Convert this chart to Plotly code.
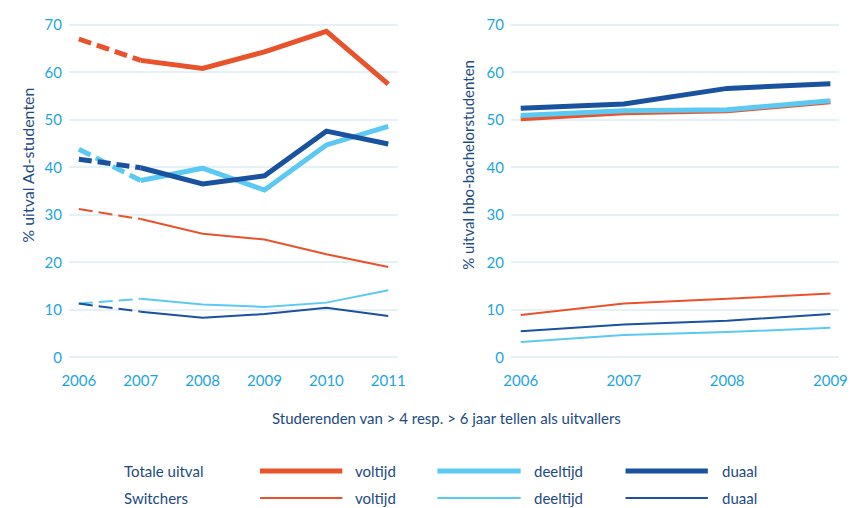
import plotly.graph_objects as go

# data
jaren_ad = [2006, 2007, 2008, 2009, 2010, 2011]
jaren_hbo = [2006, 2007, 2008, 2009]

ad_totaal_voltijd = [67.0, 62.5, 60.8, 64.3, 68.6, 57.5]
ad_totaal_deeltijd = [43.8, 37.2, 39.8, 35.2, 44.7, 48.6]
ad_totaal_duaal = [41.7, 39.9, 36.5, 38.2, 47.6, 44.9]
ad_switch_voltijd = [31.2, 29.1, 26.0, 24.8, 21.7, 19.0]
ad_switch_deeltijd = [11.3, 12.3, 11.1, 10.6, 11.5, 14.1]
ad_switch_duaal = [11.3, 9.6, 8.3, 9.1, 10.4, 8.7]

hbo_totaal_voltijd = [50.2, 51.5, 51.9, 53.8]
hbo_totaal_deeltijd = [50.9, 51.9, 52.1, 54.0]
hbo_totaal_duaal = [52.4, 53.3, 56.6, 57.6]
hbo_switch_voltijd = [8.9, 11.3, 12.3, 13.4]
hbo_switch_deeltijd = [3.2, 4.7, 5.3, 6.2]
hbo_switch_duaal = [5.5, 6.9, 7.7, 9.1]

y_ticks = [0, 10, 20, 30, 40, 50, 60, 70]

ORANJE = "#E8532B"
LICHTBLAUW = "#5CC9F2"
DONKERBLAUW = "#1A52A0"
TICK = "#1EA5DD"
TEKST = "#1C4A84"
GRID = "#E4F1F7"
FONT = "Lato, Roboto, sans-serif"

DIK = 5
DUN = 2

# de pagina heeft 8px body-marge; figuur daarom 8px kleiner en alles 8px verschoven
OFF = 8
W, H = 856 - OFF, 508 - OFF
T, B = 12, 146


def px(x):
    return (x - OFF) / W


def py(y):
    # paper coords lopen over het plotgebied (tussen de marges)
    return (H - B - (y - OFF)) / (H - T - B)


fig = go.Figure()

# linker grafiek: eerste stuk (2006-2007) gestreept, de rest doorgetrokken
ad_series = [
    (ad_switch_voltijd, ORANJE, DUN, "14px,6px"),
    (ad_switch_deeltijd, LICHTBLAUW, DUN, "14px,6px"),
    (ad_switch_duaal, DONKERBLAUW, DUN, "14px,6px"),
    (ad_totaal_voltijd, ORANJE, DIK, "13px,6px"),
    (ad_totaal_deeltijd, LICHTBLAUW, DIK, "13px,6px"),
    (ad_totaal_duaal, DONKERBLAUW, DIK, "13px,6px"),
]
for waarden, kleur, breedte, streep in ad_series:
    fig.add_trace(go.Scatter(x=jaren_ad[:2], y=waarden[:2], mode="lines",
                             line=dict(color=kleur, width=breedte, dash=streep),
                             xaxis="x", yaxis="y", showlegend=False, hoverinfo="skip"))
    fig.add_trace(go.Scatter(x=jaren_ad[1:], y=waarden[1:], mode="lines",
                             line=dict(color=kleur, width=breedte),
                             xaxis="x", yaxis="y", showlegend=False))

hbo_series = [
    (hbo_switch_voltijd, ORANJE, DUN),
    (hbo_switch_deeltijd, LICHTBLAUW, DUN),
    (hbo_switch_duaal, DONKERBLAUW, DUN),
    (hbo_totaal_voltijd, ORANJE, DIK),
    (hbo_totaal_deeltijd, LICHTBLAUW, DIK),
    (hbo_totaal_duaal, DONKERBLAUW, DIK),
]
for waarden, kleur, breedte in hbo_series:
    fig.add_trace(go.Scatter(x=jaren_hbo, y=waarden, mode="lines",
                             line=dict(color=kleur, width=breedte),
                             xaxis="x2", yaxis="y2", showlegend=False))

as_x = dict(showgrid=False, zeroline=False, showline=False, ticks="",
            tickfont=dict(color=TICK, size=15, family=FONT), ticklabelstandoff=8)
as_y = dict(range=[-1, 71], tickvals=y_ticks, showgrid=True, gridcolor=GRID, gridwidth=2,
            zeroline=False, showline=False, ticks="",
            tickfont=dict(color=TICK, size=15, family=FONT), ticklabelstandoff=6)

fig.update_layout(
    width=W, height=H,
    margin=dict(l=0, r=0, t=T, b=B),
    paper_bgcolor="white", plot_bgcolor="white",
    font=dict(family=FONT, color=TEKST),
    xaxis=dict(as_x, domain=[px(62), px(398)], range=[2005.84, 2011.16], tickvals=jaren_ad),
    yaxis=dict(as_y, anchor="x"),
    xaxis2=dict(as_x, domain=[px(513), px(848)], range=[2005.905, 2009.085],
                tickvals=jaren_hbo, anchor="y2"),
    yaxis2=dict(as_y, anchor="x2"),
)

annotaties = [
    ("% uitval Ad-studenten", 20, 165, -90, 16),
    ("% uitval hbo-bachelorstudenten", 469, 165, -90, 15),
    ("Studerenden van > 4 resp. > 6 jaar tellen als uitvallers", 447, 418, 0, 15),
]
for tekst, ax, ay, hoek, grootte in annotaties:
    fig.add_annotation(text=tekst, x=px(ax), y=py(ay),
                       xref="paper", yref="paper", showarrow=False, textangle=hoek,
                       font=dict(size=grootte, color=TEKST, family=FONT),
                       xanchor="center", yanchor="middle")

# handmatige legenda
rijen = [("Totale uitval", 471, DIK), ("Switchers", 498, DUN)]
items = [("voltijd", ORANJE, 257, 341, 352),
         ("deeltijd", LICHTBLAUW, 438, 523, 535),
         ("duaal", DONKERBLAUW, 630, 714, 726)]
for kop, ry, breedte in rijen:
    fig.add_annotation(text=kop, x=px(116), y=py(ry), xref="paper", yref="paper",
                       showarrow=False, xanchor="left", yanchor="middle",
                       font=dict(size=15, color=TEKST, family=FONT))
    for naam, kleur, x0, x1, tx in items:
        fig.add_shape(type="line", xref="paper", yref="paper",
                      x0=px(x0), x1=px(x1), y0=py(ry), y1=py(ry),
                      line=dict(color=kleur, width=breedte))
        fig.add_annotation(text=naam, x=px(tx), y=py(ry), xref="paper", yref="paper",
                           showarrow=False, xanchor="left", yanchor="middle",
                           font=dict(size=15, color=TEKST, family=FONT))

fig.write_html("out.html")
